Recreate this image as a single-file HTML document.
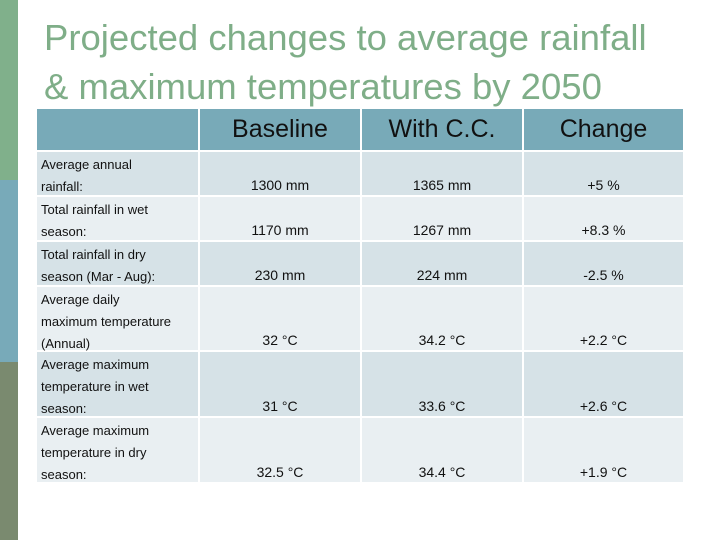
<!DOCTYPE html>
<html><head><meta charset="utf-8"><style>
body{margin:0;width:720px;height:540px;background:#fff;position:relative;overflow:hidden;font-family:"Liberation Sans","DejaVu Sans",sans-serif}
.bar{position:absolute;left:0;width:18px}
h1{position:absolute;left:44px;top:13px;margin:0;font-weight:normal;font-size:36.5px;line-height:49px;color:#7fae88;white-space:nowrap}
.c{position:absolute;box-sizing:border-box;display:flex;align-items:flex-end;justify-content:center;font-size:14px;color:#111;padding-bottom:2px}
.h{background:#78aab8;font-size:25px;align-items:center;justify-content:center;padding:0}
.l{justify-content:flex-start;padding-left:4px;font-size:13px;line-height:22px;align-items:flex-start;padding-top:2px}
</style></head><body>
<div class="bar" style="top:0;height:180px;background:#80b08b"></div>
<div class="bar" style="top:180px;height:182px;background:#78aab9"></div>
<div class="bar" style="top:362px;height:178px;background:#7a8a6f"></div>
<h1>Projected changes to average rainfall<br>&amp; maximum temperatures by 2050</h1>
<div id="t"></div>
<script>
const headers=["","Baseline","With C.C.","Change"];
const labels=["Average annual<br>rainfall:","Total rainfall in wet<br>season:","Total rainfall in dry<br>season (Mar - Aug):","Average daily<br>maximum temperature<br>(Annual)","Average maximum<br>temperature in wet<br>season:","Average maximum<br>temperature in dry<br>season:"];
const baseline=["1300 mm","1170 mm","230 mm","32 °C","31 °C","32.5 °C"];
const withCC=["1365 mm","1267 mm","224 mm","34.2 °C","33.6 °C","34.4 °C"];
const change=["+5 %","+8.3 %","-2.5 %","+2.2 °C","+2.6 °C","+1.9 °C"];
const cols=[[37,198],[200,360],[362,522],[524,683]];
const rows=[[152,195],[197,240],[242,285],[287,350],[352,416],[418,482]];
const t=document.getElementById('t');
function cell(x0,x1,y0,y1,cls,html,bg,name){
 const d=document.createElement('div');d.className='c '+cls;
 d.style.cssText=`left:${x0}px;top:${y0}px;width:${x1-x0}px;height:${y1-y0}px;`+(bg?`background:${bg}`:'');
 d.innerHTML=html;
 
 
 t.appendChild(d);
}
headers.forEach((h,i)=>cell(cols[i][0],cols[i][1],109,150,'h',h,null,'header-'+(h?h.toLowerCase().replace(/[^a-z]+/g,'-'):'blank')));
rows.forEach((r,j)=>{
 const bg=j%2==0?'#d6e2e7':'#e9eff2';
 cell(cols[0][0],cols[0][1],r[0],r[1],'l',labels[j],bg,'row-label');
 [baseline,withCC,change].forEach((a,i)=>cell(cols[i+1][0],cols[i+1][1],r[0],r[1],'',a[j],bg,['baseline-cell','with-cc-cell','change-cell'][i]));
});
</script>
</body></html>
